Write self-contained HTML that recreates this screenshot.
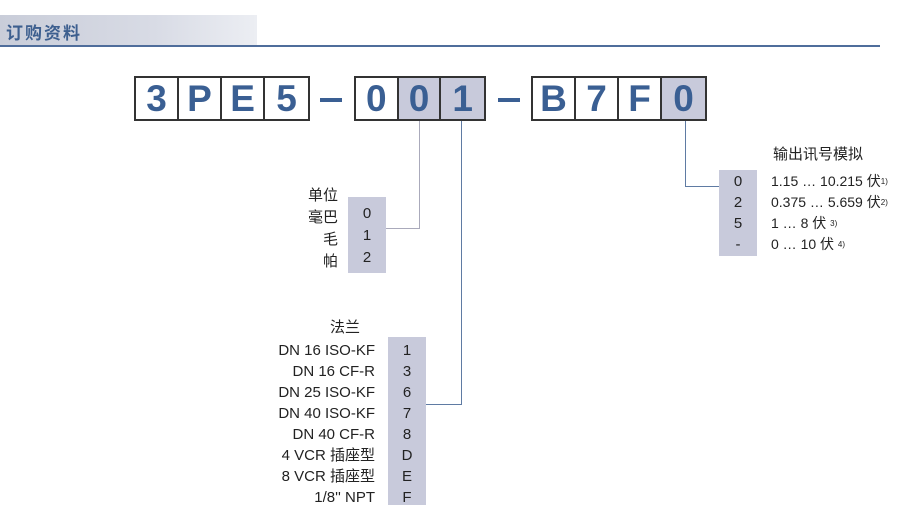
<!DOCTYPE html>
<html><head><meta charset="utf-8"><style>
body{margin:0;width:897px;height:527px;background:#fff;position:relative;overflow:hidden;font-family:"Liberation Sans","Noto Sans CJK SC",sans-serif;}
.a{position:absolute}
.hdr{left:0;top:15px;width:257px;height:31px;background:linear-gradient(90deg,#c9cdd9,#d8dbe5 60%,#eceef3);}
.ht{left:6px;top:19px;font-size:17px;color:#3d5f8f;letter-spacing:2px;font-weight:bold}
.hl{left:0;top:45px;width:880px;height:2px;background:#4f6d9b}
.g{top:76px;height:45px;border:2px solid #333;box-sizing:border-box;display:flex}
.g div{width:44px;border-right:2px solid #333;box-sizing:border-box;text-align:center;font-weight:bold;font-size:37px;line-height:41px;color:#3a5f93}
.g div:last-child{border-right:none}
.s{background:#c8cadb}
.d{top:98px;width:22px;height:4px;background:#3a5f93}
.box{background:#c8cadb}
.t{font-size:15px;color:#222;line-height:21px}
.r{text-align:right}
.c{text-align:center}
.ln{background:#5f7ba3}
sup{font-size:8px;line-height:0;position:relative;top:-2px;vertical-align:baseline}
</style></head><body>
<div class="a hdr"></div><div class="a ht">订购资料</div><div class="a hl"></div>

<div class="a g" style="left:134px;width:176px"><div>3</div><div>P</div><div>E</div><div>5</div></div>
<div class="a d" style="left:320px"></div>
<div class="a g" style="left:354px;width:132px"><div>0</div><div class="s">0</div><div class="s">1</div></div>
<div class="a d" style="left:498px"></div>
<div class="a g" style="left:531px;width:176px"><div>B</div><div>7</div><div>F</div><div class="s">0</div></div>

<div class="a" style="left:419px;top:121px;width:1px;height:107px;background:#aab"></div>
<div class="a" style="left:386px;top:228px;width:34px;height:1px;background:#aab"></div>
<div class="a ln" style="left:461px;top:121px;width:1px;height:284px"></div>
<div class="a ln" style="left:426px;top:404px;width:36px;height:1px"></div>
<div class="a ln" style="left:685px;top:121px;width:1px;height:66px"></div>
<div class="a ln" style="left:685px;top:186px;width:34px;height:1px"></div>

<div class="a box" style="left:348px;top:197px;width:38px;height:76px"></div>
<div class="a t r" style="left:280px;top:185px;width:58px;line-height:22px">单位<br>毫巴<br>毛<br>帕</div>
<div class="a t c" style="left:348px;top:203px;width:38px;line-height:22px">0<br>1<br>2</div>

<div class="a box" style="left:388px;top:337px;width:38px;height:168px"></div>
<div class="a t" style="left:330px;top:317px">法兰</div>
<div class="a t r" style="left:240px;top:340px;width:135px">DN 16 ISO-KF<br>DN 16 CF-R<br>DN 25 ISO-KF<br>DN 40 ISO-KF<br>DN 40 CF-R<br>4 VCR 插座型<br>8 VCR 插座型<br>1/8'' NPT</div>
<div class="a t c" style="left:388px;top:340px;width:38px">1<br>3<br>6<br>7<br>8<br>D<br>E<br>F</div>

<div class="a box" style="left:719px;top:170px;width:38px;height:86px"></div>
<div class="a t" style="left:773px;top:144px">输出讯号模拟</div>
<div class="a t c" style="left:719px;top:171px;width:38px">0<br>2<br>5<br>-</div>
<div class="a t" style="left:771px;top:171px;font-size:14px">1.15 … 10.215 伏<sup>1)</sup><br>0.375 … 5.659 伏<sup>2)</sup><br>1 … 8 伏 <sup>3)</sup><br>0 … 10 伏 <sup>4)</sup></div>
</body></html>
